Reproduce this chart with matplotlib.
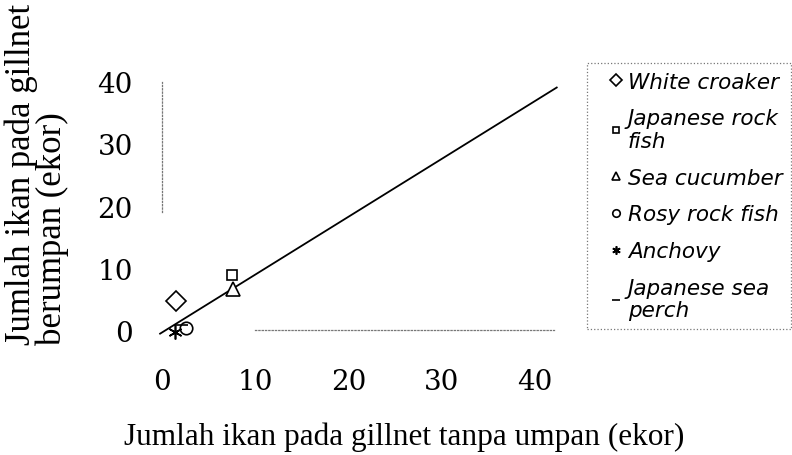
import matplotlib
matplotlib.use("Agg")
import matplotlib.pyplot as plt
import numpy as np

# catch per species: without bait (x) vs with bait (y)
species = ["White croaker", "Japanese rock\nfish", "Sea cucumber",
           "Rosy rock fish", "Anchovy", "Japanese sea\nperch"]
no_bait = [1.5, 7.5, 7.6, 2.6, 1.4, 2.0]
with_bait = [4.7, 8.8, 6.6, 0.3, -0.4, 0.8]
markers = ["D", "s", "^", "o", (6, 2, 0), "_"]
sizes = [10, 6.5, 9.5, 9, 10, 10]

# fitted line
fit_slope = 0.934
fit_intercept = -0.4
fit_x = [-0.2, 42.3]

x_ticks = [0, 10, 20, 30, 40]
y_ticks = [0, 10, 20, 30, 40]

fig = plt.figure(figsize=(7.92, 4.56), dpi=100)
ax = fig.add_axes([0.2045, 0.2741, 0.5008, 0.5439])

fx = np.array(fit_x)
ax.plot(fx, fit_slope * fx + fit_intercept, color="black", lw=1.3, clip_on=False)

handles = []
for sx, sy, m, ms, name in zip(no_bait, with_bait, markers, sizes, species):
    h, = ax.plot([sx], [sy], linestyle="none", marker=m, markersize=ms,
                 markerfacecolor="white", markeredgecolor="black",
                 markeredgewidth=1.2, color="black", clip_on=False, label=name)
    handles.append(h)

ax.set_xlim(0, 42.5)
ax.set_ylim(0, 40)
ax.set_xticks(x_ticks)
ax.set_yticks(y_ticks)
ax.tick_params(length=0, labelsize=20)
ax.tick_params(axis="y", pad=21)
ax.tick_params(axis="x", pad=27)
for lab in ax.get_xticklabels() + ax.get_yticklabels():
    lab.set_family("DejaVu Serif")

for side in ["top", "right"]:
    ax.spines[side].set_visible(False)
for side in ["left", "bottom"]:
    ax.spines[side].set_linestyle(":")
    ax.spines[side].set_color("#777777")
    ax.spines[side].set_linewidth(0.9)
ax.spines["left"].set_bounds(19, 40)
ax.spines["bottom"].set_bounds(10, 42)

fig.text(404 / 792, 1 - 437 / 456, "Jumlah ikan pada gillnet tanpa umpan (ekor)",
         family="Liberation Serif", fontsize=22.5, ha="center", va="center")
fig.text(37 / 792, 1 - 345 / 456, "Jumlah ikan pada gillnet\nberumpan (ekor)",
         family="Liberation Serif", fontsize=25, rotation=90,
         ha="center", va="bottom", multialignment="left", linespacing=0.92)

leg = ax.legend(handles=handles, loc="upper left",
                bbox_to_anchor=(587 / 792, 1 - 64 / 456),
                bbox_transform=fig.transFigure,
                prop={"family": "DejaVu Sans", "style": "italic", "size": 15.5},
                markerscale=0.6, handlelength=1.9, handletextpad=-0.4,
                labelspacing=0.78, borderpad=0.4, borderaxespad=0,
                fancybox=False, frameon=True)
for t in leg.get_texts():
    t.set_linespacing(1.15)
frame = leg.get_frame()
frame.set_linestyle(":")
frame.set_edgecolor("#555555")
frame.set_linewidth(0.9)

fig.savefig("out.png", dpi=100)
